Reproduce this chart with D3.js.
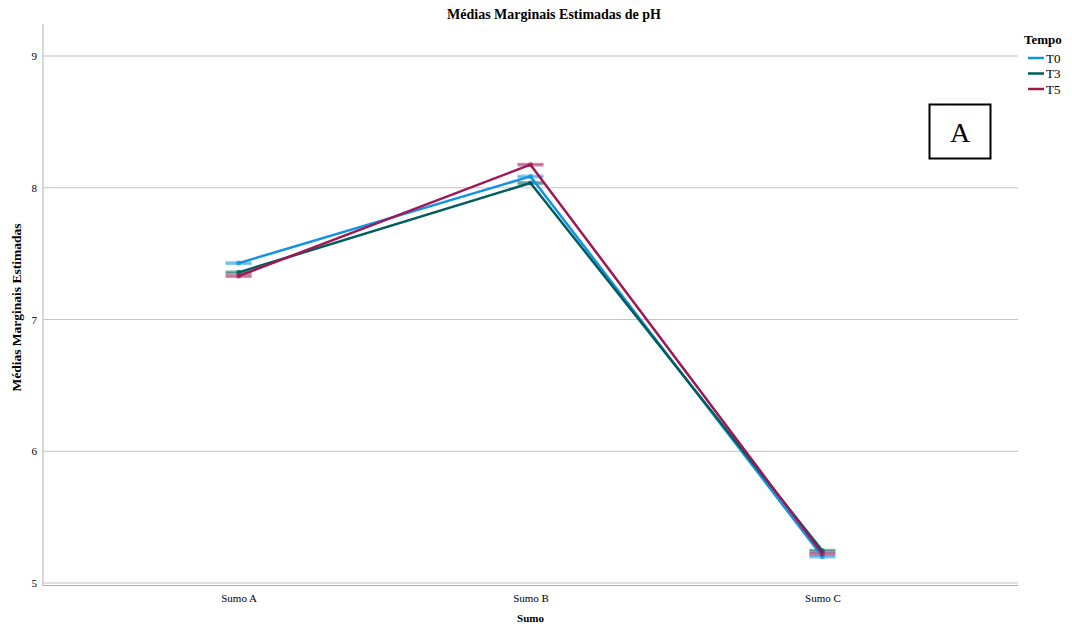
<!DOCTYPE html>
<html>
<head>
<meta charset="utf-8">
<script src="https://cdn.jsdelivr.net/npm/d3@7"></script>
<style>
  html, body { margin: 0; padding: 0; background: #fff; }
  svg { display: block; font-family: "Liberation Serif", "Times New Roman", serif; }
</style>
</head>
<body>
<svg id="chart" width="1072" height="628"></svg>
<script>
// Estimated marginal means of pH per juice (Sumo) and time point (Tempo)
const categories = ["Sumo A", "Sumo B", "Sumo C"];
const seriesNames = ["T0", "T3", "T5"];
const valuesT0 = [7.428, 8.086, 5.200];
const valuesT3 = [7.358, 8.036, 5.245];
const valuesT5 = [7.330, 8.175, 5.222];
const yTicks = [5, 6, 7, 8, 9];
const seriesColors = ["#1192e8", "#005d5d", "#9f1853"];
const ciHalf = 0.006;

const series = seriesNames.map((name, i) => ({
  name,
  color: seriesColors[i],
  values: [valuesT0, valuesT3, valuesT5][i]
}));

const svg = d3.select("#chart");
const plotLeft = 43, plotRight = 1018, plotTop = 24, plotBottom = 583;

const x = d3.scalePoint().domain(categories).range([plotLeft, plotRight]).padding(0.67);
const y = d3.scaleLinear().domain([5, 9.25]).range([plotBottom, plotBottom - 4.25 * 131.75]);

// gridlines
svg.append("g")
  .selectAll("line")
  .data(yTicks)
  .join("line")
  .attr("x1", plotLeft).attr("x2", plotRight)
  .attr("y1", d => y(d)).attr("y2", d => y(d))
  .attr("stroke", "#c4c4c4").attr("stroke-width", 1);

// bottom axis line (double rule)
svg.append("line")
  .attr("x1", plotLeft).attr("x2", plotRight)
  .attr("y1", plotBottom + 2.5).attr("y2", plotBottom + 2.5)
  .attr("stroke", "#b0b0b0").attr("stroke-width", 1);

// left axis
const yAxis = d3.axisLeft(y).tickValues(yTicks).tickSize(0).tickPadding(6).tickFormat(d3.format("d"));
const gy = svg.append("g").attr("transform", `translate(${plotLeft},0)`).call(yAxis);
gy.attr("font-family", null);
gy.select(".domain").attr("stroke", "#b0b0b0").attr("d", `M0,${plotTop}V${plotBottom + 3}`);
gy.selectAll(".tick text").attr("font-size", 11).attr("fill", "#000");

// bottom axis tick labels
const xAxis = d3.axisBottom(x).tickSize(0).tickPadding(8);
const gx = svg.append("g").attr("transform", `translate(0,${plotBottom + 3})`).call(xAxis);
gx.attr("font-family", null);
gx.select(".domain").remove();
gx.selectAll(".tick text").attr("font-size", 11).attr("fill", "#000");

// error bar caps
series.forEach(s => {
  const g = svg.append("g");
  s.values.forEach((v, i) => {
    [v - ciHalf, v + ciHalf].forEach(c => {
      g.append("line")
        .attr("x1", x(categories[i]) - 13).attr("x2", x(categories[i]) + 13)
        .attr("y1", y(c)).attr("y2", y(c))
        .attr("stroke", s.color).attr("stroke-opacity", 0.5).attr("stroke-width", 2.2);
    });
    g.append("line")
      .attr("x1", x(categories[i])).attr("x2", x(categories[i]))
      .attr("y1", y(v - ciHalf)).attr("y2", y(v + ciHalf))
      .attr("stroke", s.color).attr("stroke-opacity", 0.5).attr("stroke-width", 2);
  });
});

// lines
const line = d3.line().x((d, i) => x(categories[i])).y(d => y(d));
series.forEach(s => {
  svg.append("path")
    .datum(s.values)
    .attr("fill", "none")
    .attr("stroke", s.color)
    .attr("stroke-width", 2.5)
    .attr("stroke-linejoin", "round")
    .attr("d", line);
  svg.append("g").selectAll("circle")
    .data(s.values)
    .join("circle")
    .attr("cx", (d, i) => x(categories[i]))
    .attr("cy", d => y(d))
    .attr("r", 2.5)
    .attr("fill", s.color)
    .attr("fill-opacity", 0.7);
});

// title
svg.append("text")
  .attr("x", 554).attr("y", 19)
  .attr("text-anchor", "middle")
  .attr("font-size", 14).attr("font-weight", "bold")
  .text("Médias Marginais Estimadas de pH");

// axis titles
svg.append("text")
  .attr("transform", `translate(21,${(plotTop + plotBottom) / 2 + 4}) rotate(-90)`)
  .attr("text-anchor", "middle")
  .attr("font-size", 13.5).attr("font-weight", "bold")
  .text("Médias Marginais Estimadas");

svg.append("text")
  .attr("x", x("Sumo B")).attr("y", 622)
  .attr("text-anchor", "middle")
  .attr("font-size", 11).attr("font-weight", "bold")
  .text("Sumo");

// legend
const legend = svg.append("g").attr("transform", "translate(1024,0)");
legend.append("text")
  .attr("x", 0).attr("y", 44)
  .attr("font-size", 13).attr("font-weight", "bold")
  .text("Tempo");
series.forEach((s, i) => {
  const yy = 58 + i * 15.5;
  legend.append("line")
    .attr("x1", 4).attr("x2", 20)
    .attr("y1", yy).attr("y2", yy)
    .attr("stroke", s.color).attr("stroke-width", 2.5);
  legend.append("text")
    .attr("x", 22).attr("y", yy + 4.5)
    .attr("font-size", 13)
    .text(s.name);
});

// panel label box
svg.append("rect")
  .attr("x", 929.5).attr("y", 104.5)
  .attr("width", 61).attr("height", 54)
  .attr("fill", "none").attr("stroke", "#000").attr("stroke-width", 2);
svg.append("text")
  .attr("x", 960).attr("y", 142)
  .attr("text-anchor", "middle")
  .attr("font-size", 28)
  .text("A");
</script>
</body>
</html>
